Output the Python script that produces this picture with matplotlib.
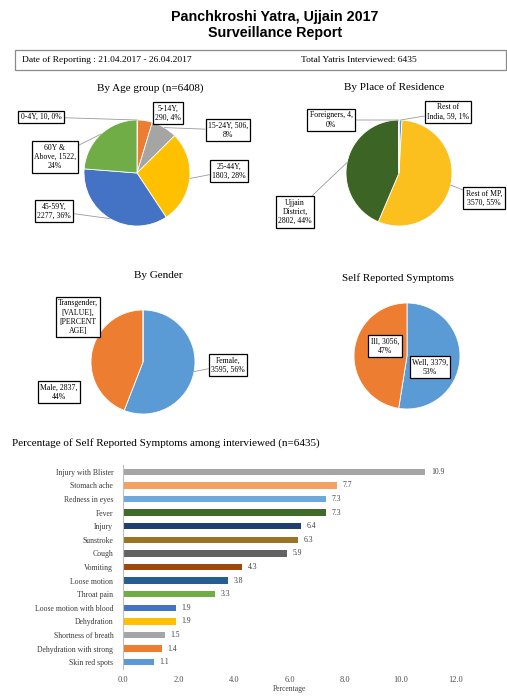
import numpy as np
import matplotlib
matplotlib.use('Agg')
from matplotlib import pyplot as plt
from matplotlib.patches import Rectangle

W, H = 507, 696

# --- data ---
age_groups = ['0-4Y', '5-14Y', '15-24Y', '25-44Y', '45-59Y', '60Y & Above']
age_counts = [10, 290, 506, 1803, 2277, 1522]
age_pct = [0, 4, 8, 28, 36, 24]
age_colors = ['#5B9BD5', '#ED7D31', '#A5A5A5', '#FFC000', '#4472C4', '#70AD47']

residence = ['Rest of India', 'Rest of MP', 'Ujjain District', 'Foreigners']
residence_counts = [59, 3570, 2802, 4]
residence_pct = [1, 55, 44, 0]
residence_colors = ['#5B9BD5', '#FBBF1E', '#3C6424', '#A5A5A5']

genders = ['Female', 'Male', 'Transgender']
gender_counts = [3595, 2837, 0]
gender_pct = [56, 44, 0]
gender_colors = ['#5B9BD5', '#ED7D31', '#A5A5A5']

status = ['Well', 'Ill']
status_counts = [3379, 3056]
status_pct = [53, 47]
status_colors = ['#5B9BD5', '#ED7D31']

symptoms = ['Injury with Blister', 'Stomach ache', 'Redness in eyes', 'Fever', 'Injury',
            'Sunstroke', 'Cough', 'Vomiting', 'Loose motion', 'Throat pain',
            'Loose motion with blood', 'Dehydration', 'Shortness of breath',
            'Dehydration with strong', 'Skin red spots']
symptom_pct = [10.9, 7.7, 7.3, 7.3, 6.4, 6.3, 5.9, 4.3, 3.8, 3.3, 1.9, 1.9, 1.5, 1.4, 1.1]
symptom_colors = ['#A5A5A5', '#F4A261', '#6FA8DC', '#3F6A2A', '#1F3F73', '#9A7420',
                  '#626262', '#9E480E', '#255E91', '#70AD47', '#4472C4', '#FFC000',
                  '#A5A5A5', '#ED7D31', '#5B9BD5']

SERIF = 'Liberation Serif'


def fp(x, y):
    # pixel position (from top-left) -> figure fraction
    return (x / W, 1 - y / H)


fig = plt.figure(figsize=(W / 100, H / 100), dpi=100)
fig.patch.set_facecolor('white')

# header
fig.text(*fp(275, 17), 'Panchkroshi Yatra, Ujjain 2017', ha='center', va='center',
         fontsize=10.3, fontweight='bold', family='Liberation Sans')
fig.text(*fp(275, 33), 'Surveillance Report', ha='center', va='center',
         fontsize=10.3, fontweight='bold', family='Liberation Sans')
fig.add_artist(Rectangle(fp(15, 70), (506 - 15) / W, 20 / H, transform=fig.transFigure,
                         fill=False, edgecolor='#8a8a8a', lw=0.9))
fig.text(*fp(22, 60), 'Date of Reporting : 21.04.2017 - 26.04.2017', ha='left', va='center',
         fontsize=6.8, family=SERIF)
fig.text(*fp(301, 60), 'Total Yatris Interviewed: 6435', ha='left', va='center',
         fontsize=6.8, family=SERIF)

box = dict(boxstyle='square,pad=0.3', fc='white', ec='black', lw=0.9)
lead = dict(arrowstyle='-', color='#9a9a9a', lw=0.6, shrinkA=0, shrinkB=0)


def pie_chart(cx, cy, r, values, colors, title, tx, ty):
    ax = fig.add_axes([(cx - r) / W, 1 - (cy + r) / H, 2 * r / W, 2 * r / H])
    wedges, _ = ax.pie(values, colors=colors, startangle=90, counterclock=False,
                       wedgeprops=dict(edgecolor='white', linewidth=0.6))
    ax.set_xlim(-1, 1)
    ax.set_ylim(-1, 1)
    ax.set_aspect('equal')
    ax.axis('off')
    fig.text(*fp(tx, ty), title, ha='center', va='center', fontsize=8, family=SERIF)
    return ax, wedges


def label(ax, wedge, text, x, y, leader=True):
    ang = np.deg2rad((wedge.theta1 + wedge.theta2) / 2)
    ax.annotate(text, xy=(np.cos(ang), np.sin(ang)), xycoords='data',
                xytext=fp(x, y), textcoords='figure fraction',
                ha='center', va='center', fontsize=5.6, family=SERIF,
                multialignment='center', bbox=box,
                arrowprops=lead if leader else None)


# age group
ax, wd = pie_chart(137, 173, 53, age_counts, age_colors, 'By Age group (n=6408)', 150, 88)
pos = [(41, 117), (168, 113), (228, 130), (229, 171), (54, 211), (55, 157)]
for i, (name, c, p) in enumerate(zip(age_groups, age_counts, age_pct)):
    if name == '60Y & Above':
        txt = '60Y &\nAbove, %d,\n%d%%' % (c, p)
    elif name == '0-4Y':
        txt = '%s, %d, %d%%' % (name, c, p)
    elif name == '15-24Y':
        txt = '%s, %d,\n%d%%' % (name, c, p)
    else:
        txt = '%s,\n%d, %d%%' % (name, c, p)
    label(ax, wd[i], txt, *pos[i], leader=name != '5-14Y')

# place of residence
ax, wd = pie_chart(399, 173, 53, residence_counts, residence_colors, 'By Place of Residence', 394, 87)
label(ax, wd[0], 'Rest of\nIndia, %d, %d%%' % (residence_counts[0], residence_pct[0]), 448, 112)
label(ax, wd[1], 'Rest of MP,\n%d, %d%%' % (residence_counts[1], residence_pct[1]), 484, 198)
label(ax, wd[2], 'Ujjain\nDistrict,\n%d, %d%%' % (residence_counts[2], residence_pct[2]), 295, 212)
label(ax, wd[3], 'Foreigners, %d,\n%d%%' % (residence_counts[3], residence_pct[3]), 331, 120)

# gender
ax, wd = pie_chart(143, 362, 52, gender_counts, gender_colors, 'By Gender', 158, 276)
label(ax, wd[0], 'Female,\n%d, %d%%' % (gender_counts[0], gender_pct[0]), 228, 365)
label(ax, wd[1], 'Male, %d,\n%d%%' % (gender_counts[1], gender_pct[1]), 59, 392, leader=False)
label(ax, wd[2], 'Transgender,\n[VALUE],\n[PERCENT\nAGE]', 78, 317, leader=False)

# self reported
ax, wd = pie_chart(407, 356, 53, status_counts, status_colors, 'Self Reported Symptoms', 398, 278)
label(ax, wd[0], 'Well, %d,\n%d%%' % (status_counts[0], status_pct[0]), 430, 367, leader=False)
label(ax, wd[1], 'Ill, %d,\n%d%%' % (status_counts[1], status_pct[1]), 385, 346, leader=False)

# bar chart
fig.text(*fp(12, 443), 'Percentage of Self Reported Symptoms among interviewed (n=6435)',
         ha='left', va='center', fontsize=8, family=SERIF)
bx = fig.add_axes([123 / W, 1 - 669 / H, (456 - 123) / W, (669 - 465) / H])
y = np.arange(len(symptoms))
bx.barh(y, symptom_pct, height=0.48, color=symptom_colors)
for yi, v in zip(y, symptom_pct):
    bx.text(v + 0.2, yi, '%.1f' % v, va='center', ha='left', fontsize=5.5, family=SERIF,
            color='#404040')
bx.set_ylim(len(symptoms) - 0.5, -0.5)
bx.set_xlim(0, 12)
bx.set_yticks(y)
bx.set_yticklabels(symptoms, fontsize=5.6, family=SERIF, color='#3a3a3a')
bx.set_xticks(np.arange(0, 12.1, 2))
bx.set_xticklabels(['%.1f' % t for t in np.arange(0, 12.1, 2)], fontsize=6, family=SERIF,
                   color='#505050')
bx.tick_params(length=0)
bx.tick_params(axis='y', pad=7)
bx.tick_params(axis='x', pad=5)
for s in ['top', 'right', 'bottom']:
    bx.spines[s].set_visible(False)
bx.spines['left'].set_color('#bfbfbf')
bx.spines['left'].set_linewidth(0.8)
bx.set_xlabel('Percentage', fontsize=5.5, family=SERIF, color='#404040', labelpad=1)

fig.savefig('out.png', dpi=100)
